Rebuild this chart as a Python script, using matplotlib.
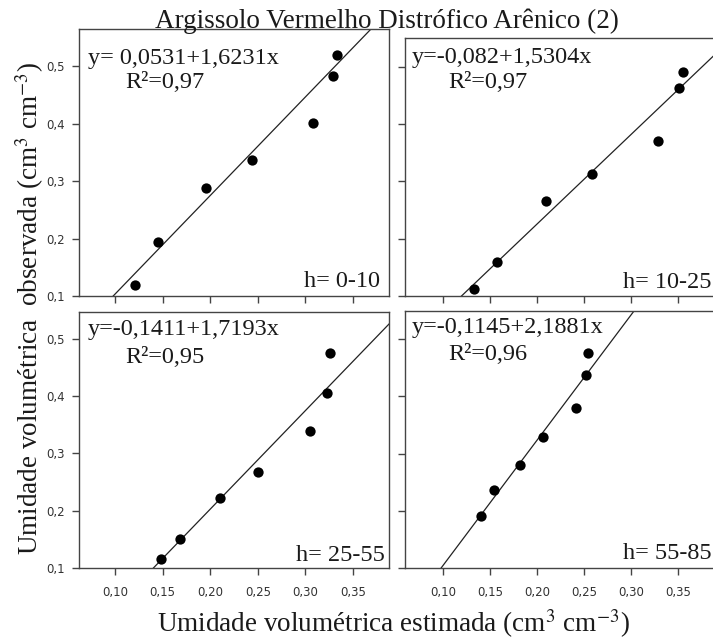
import numpy as np
import matplotlib
matplotlib.use("Agg")
import matplotlib.pyplot as plt
from matplotlib.ticker import FuncFormatter

plt.rcParams['font.family'] = ['Liberation Serif', 'DejaVu Serif']
plt.rcParams['mathtext.fontset'] = 'stix'

title = "Argissolo Vermelho Distrófico Arênico (2)"
xlabel = "Umidade volumétrica estimada (cm$^{3}$ cm$^{-3}$)"
ylabel = "Umidade volumétrica  observada (cm$^{3}$ cm$^{-3}$)"

# Panel 1: h= 0-10
x1 = [0.121, 0.145, 0.196, 0.244, 0.308, 0.329, 0.333]
y1 = [0.119, 0.194, 0.288, 0.337, 0.401, 0.483, 0.519]
# Panel 2: h= 10-25
x2 = [0.133, 0.157, 0.210, 0.259, 0.329, 0.351, 0.355]
y2 = [0.112, 0.159, 0.265, 0.312, 0.371, 0.462, 0.491]
# Panel 3: h= 25-55
x3 = [0.148, 0.168, 0.210, 0.250, 0.305, 0.323, 0.326]
y3 = [0.116, 0.151, 0.223, 0.267, 0.340, 0.406, 0.476]
# Panel 4: h= 55-85
x4 = [0.140, 0.154, 0.182, 0.206, 0.242, 0.252, 0.254]
y4 = [0.191, 0.236, 0.280, 0.328, 0.380, 0.438, 0.475]

# fitted line as drawn (intercept, slope)
fit1 = (-0.068, 1.715)
fit2 = (-0.087, 1.562)
fit3 = (-0.1411, 1.7193)
fit4 = (-0.1145, 2.1881)

eqs = ["y= 0,0531+1,6231x", "y=-0,082+1,5304x", "y=-0,1411+1,7193x", "y=-0,1145+2,1881x"]
r2s = ["R²=0,97", "R²=0,97", "R²=0,95", "R²=0,96"]
depths = ["h= 0-10", "h= 10-25", "h= 25-55", "h= 55-85"]

xticks = [0.10, 0.15, 0.20, 0.25, 0.30, 0.35]
yticks = [0.1, 0.2, 0.3, 0.4, 0.5]

W, H = 713, 639
fig = plt.figure(figsize=(W / 100, H / 100), dpi=100)

def rect(l, r, t, b):
    return [l / W, 1 - b / H, (r - l) / W, (b - t) / H]

panels = [
    dict(r=rect(79, 389, 29, 296), x=x1, y=y1, fit=fit1, xl=(0.062, 0.388), yl=(0.1, 0.565),
         eq=(0.029, 0.888), r2=(0.148, 0.801), h=(0.971, 0.056), xlab=False, ylab=True),
    dict(r=rect(405, 715, 38, 296), x=x2, y=y2, fit=fit2, xl=(0.0596, 0.3894), yl=(0.1, 0.55),
         eq=(0.0215, 0.926), r2=(0.139, 0.829), h=(0.989, 0.054), xlab=False, ylab=False),
    dict(r=rect(79, 389, 312, 568), x=x3, y=y3, fit=fit3, xl=(0.062, 0.388), yl=(0.1, 0.547),
         eq=(0.029, 0.93), r2=(0.148, 0.824), h=(0.987, 0.05), xlab=True, ylab=True),
    dict(r=rect(405, 715, 311, 568), x=x4, y=y4, fit=fit4, xl=(0.0596, 0.3894), yl=(0.1, 0.549),
         eq=(0.0215, 0.936), r2=(0.139, 0.829), h=(0.99, 0.058), xlab=True, ylab=False),
]

spine_c = '#444444'
fmt2 = FuncFormatter(lambda v, p: f"{v:.2f}".replace('.', ','))
fmt1 = FuncFormatter(lambda v, p: f"{v:.1f}".replace('.', ','))

for i, P in enumerate(panels):
    ax = fig.add_axes(P['r'])
    ax.scatter(P['x'], P['y'], s=55, color='black', zorder=3, linewidths=0)
    xx = np.linspace(P['xl'][0], P['xl'][1], 50)
    ax.plot(xx, P['fit'][0] + P['fit'][1] * xx, color='#222222', lw=0.9, zorder=2)
    ax.set_xlim(*P['xl'])
    ax.set_ylim(*P['yl'])
    ax.set_xticks(xticks)
    ax.set_yticks(yticks)
    ax.xaxis.set_major_formatter(fmt2)
    ax.yaxis.set_major_formatter(fmt1)
    ax.tick_params(direction='out', length=5, width=1, color=spine_c,
                   labelsize=8.5, labelcolor='#333333', pad=5)
    for lbl in ax.get_xticklabels() + ax.get_yticklabels():
        lbl.set_family('DejaVu Sans')
    if not P['xlab']:
        ax.tick_params(labelbottom=False)
    else:
        ax.tick_params(axis='x', pad=8)
    if not P['ylab']:
        ax.tick_params(labelleft=False)
    for s in ax.spines.values():
        s.set_color(spine_c)
        s.set_linewidth(1.0)
    ax.text(P['eq'][0], P['eq'][1], eqs[i], transform=ax.transAxes, fontsize=17.5,
            ha='left', va='center', color='#1a1a1a')
    ax.text(P['r2'][0], P['r2'][1], r2s[i], transform=ax.transAxes, fontsize=17.5,
            ha='left', va='center', color='#1a1a1a')
    ax.text(P['h'][0], P['h'][1], depths[i], transform=ax.transAxes, fontsize=17.5,
            ha='right', va='center', color='#1a1a1a')

fig.text(387 / W, 1 - 21 / H, title, fontsize=19.5, ha='center', va='center', color='#1a1a1a')
fig.text(393 / W, 1 - 624 / H, xlabel, fontsize=19.5, ha='center', va='center', color='#1a1a1a')
fig.text(30 / W, 1 - 308 / H, ylabel, fontsize=19.5, ha='center', va='center',
         rotation=90, color='#1a1a1a')

fig.savefig("out.png", dpi=100)
